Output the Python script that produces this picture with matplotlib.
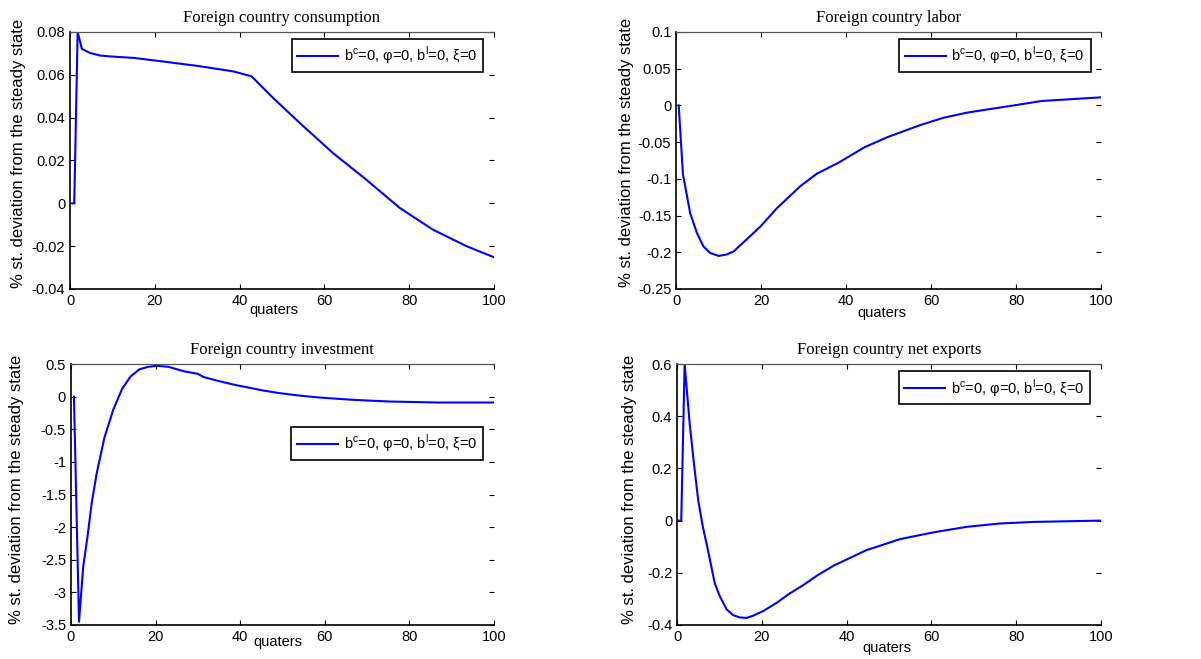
import matplotlib
matplotlib.use('Agg')
import matplotlib.pyplot as plt
import matplotlib.transforms as mtransforms
from matplotlib.ticker import FuncFormatter

plt.rcParams['font.family'] = ['Liberation Sans', 'DejaVu Sans']
plt.rcParams['mathtext.fontset'] = 'custom'
plt.rcParams['mathtext.rm'] = 'Liberation Sans'

# values
cons_x = [0.6, 1.0, 1.8, 2.8, 4.7, 7.1, 10, 14.9, 22.8, 30.6, 38.5, 42.8, 47.9, 54.2, 62, 69.9, 77.8, 85.6, 93.5, 100]
cons_y = [0, 0, 0.080, 0.0721, 0.0702, 0.069, 0.0685, 0.0679, 0.066, 0.064, 0.0616, 0.0593, 0.0492, 0.0375, 0.0235, 0.011, -0.0022, -0.0123, -0.020, -0.0252]

labor_x = [0.6, 1.6, 3.3, 4.9, 6.4, 8, 10, 11.9, 13.5, 17.4, 19.8, 23.7, 29.2, 33.1, 38.2, 44.3, 49.8, 57.3, 62.8, 68.3, 73.1, 80, 86, 100]
labor_y = [0, -0.094, -0.147, -0.174, -0.192, -0.201, -0.205, -0.203, -0.199, -0.178, -0.165, -0.140, -0.110, -0.093, -0.078, -0.057, -0.043, -0.027, -0.017, -0.010, -0.0056, 0.0005, 0.006, 0.011]

inv_x = [0.7, 1.9, 2.9, 3.9, 4.9, 6.1, 7.9, 10, 12.1, 14.1, 16.2, 18.3, 20.3, 23.1, 26.6, 30, 31.4, 35.5, 39, 42.4, 45.2, 49.3, 54.1, 58.3, 61.7, 66.6, 70, 75.5, 80.3, 86.6, 100]
inv_y = [0, -3.45, -2.6, -2.15, -1.63, -1.17, -0.63, -0.2, 0.12, 0.31, 0.42, 0.457, 0.473, 0.457, 0.39, 0.35, 0.30, 0.23, 0.177, 0.134, 0.097, 0.054, 0.016, -0.011, -0.027, -0.048, -0.059, -0.075, -0.081, -0.09, -0.09]

nx_x = [0.5, 1.0, 1.8, 3, 4, 5, 6.1, 7.3, 8.9, 10.1, 11.7, 13.2, 14.8, 16.4, 18, 20.3, 23.5, 26.6, 29.8, 33, 36.9, 40.8, 44.7, 48.7, 52.6, 60.5, 68.3, 76.2, 84.1, 92, 100]
nx_y = [0, 0, 0.60, 0.37, 0.218, 0.078, -0.024, -0.113, -0.24, -0.29, -0.34, -0.362, -0.371, -0.373, -0.364, -0.347, -0.315, -0.279, -0.247, -0.211, -0.173, -0.143, -0.113, -0.092, -0.071, -0.045, -0.024, -0.011, -0.005, -0.0025, 0]

titles = ['Foreign country consumption', 'Foreign country labor',
          'Foreign country investment', 'Foreign country net exports']
legend_label = r'b$^{\mathrm{c}}$=0, φ=0, b$^{\mathrm{l}}$=0, ξ=0'

panels = [
    dict(x=cons_x, y=cons_y, ylim=(-0.04, 0.08), yticks=[-0.04, -0.02, 0, 0.02, 0.04, 0.06, 0.08],
         rect=[0.0583, 0.5615, 0.353, 0.39], leg=(0.975, 0.973), qx=48, qy=-0.082, ylab=(-0.105, 0.527)),
    dict(x=labor_x, y=labor_y, ylim=(-0.25, 0.1), yticks=[-0.25, -0.2, -0.15, -0.1, -0.05, 0, 0.05, 0.1],
         rect=[0.563, 0.5615, 0.354, 0.39], leg=(0.975, 0.973), qx=48.5, qy=-0.093, ylab=(-0.100, 0.53)),
    dict(x=inv_x, y=inv_y, ylim=(-3.5, 0.5), yticks=[-3.5, -3, -2.5, -2, -1.5, -1, -0.5, 0, 0.5],
         rect=[0.0591, 0.0516, 0.352, 0.396], leg=(0.975, 0.759), qx=49, qy=-0.065, ylab=(-0.112, 0.52)),
    dict(x=nx_x, y=nx_y, ylim=(-0.4, 0.6), yticks=[-0.4, -0.2, 0, 0.2, 0.4, 0.6],
         rect=[0.5637, 0.0516, 0.353, 0.396], leg=(0.975, 0.973), qx=49.4, qy=-0.088, ylab=(-0.095, 0.52)),
]

fig = plt.figure(figsize=(12.01, 6.59), dpi=100)

for p, title in zip(panels, titles):
    ax = fig.add_axes(p['rect'])
    ax.plot(p['x'], p['y'], color='#0000ff', lw=1.5, label=legend_label)
    ax.set_xlim(0, 100)
    ax.set_ylim(*p['ylim'])
    ax.set_xticks([0, 20, 40, 60, 80, 100])
    ax.set_yticks(p['yticks'])
    ax.yaxis.set_major_formatter(FuncFormatter(lambda v, pos: '%g' % round(v, 4)))
    ax.tick_params(direction='in', length=3.5, labelsize=10.5, right=True, top=True, width=0.8)
    ax.spines['right'].set_visible(False)
    ax.spines['top'].set_color('#555555')
    ax.spines['top'].set_linewidth(0.9)
    for s in ['left', 'bottom']:
        ax.spines[s].set_linewidth(1.2)
    ax.set_title(title, family='Liberation Serif', fontsize=12, pad=7)
    ax.set_ylabel('% st. deviation from the steady state', fontsize=12)
    ax.yaxis.set_label_coords(*p['ylab'])
    trans = mtransforms.blended_transform_factory(ax.transData, ax.transAxes)
    ax.text(p['qx'], p['qy'], 'quaters', transform=trans, ha='center', va='center', fontsize=10.5)
    leg = ax.legend(loc='upper right', bbox_to_anchor=p['leg'], borderaxespad=0, fancybox=False,
                    framealpha=1, edgecolor='black', fontsize=10.5, handlelength=2.8,
                    borderpad=0.4, handletextpad=0.4, handleheight=0.6)
    leg.get_frame().set_linewidth(1.2)

fig.savefig('out.png', dpi=100)
